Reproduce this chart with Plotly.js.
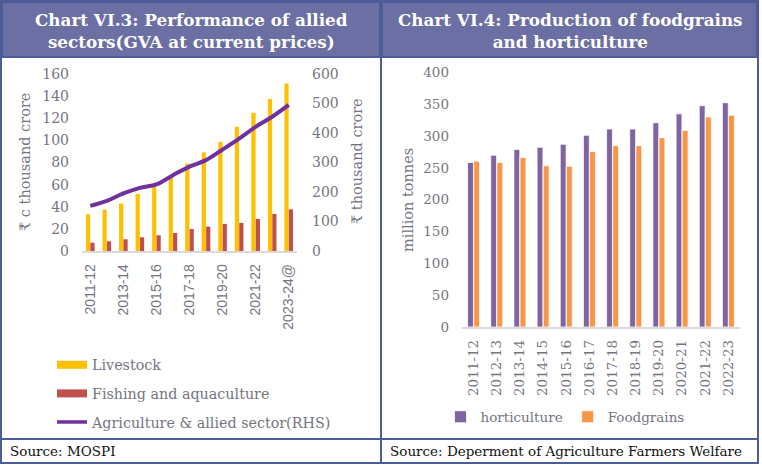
<!DOCTYPE html>
<html>
<head>
<meta charset="utf-8">
<script src="https://cdn.plot.ly/plotly-3.0.1.min.js"></script>
<style>
html,body{margin:0;padding:0;background:#fff;}
#chart{width:762px;height:466px;}
</style>
</head>
<body>
<div id="chart"></div>
<script>
// ---------- data: Chart VI.3 ----------
var alliedYears = ['2011-12','2012-13','2013-14','2014-15','2015-16','2016-17','2017-18','2018-19','2019-20','2020-21','2021-22','2022-23','2023-24@'];
var livestock = [33.2, 37.4, 42.9, 51.6, 58.6, 66.4, 79.1, 89.1, 98.7, 112.3, 125.0, 137.4, 151.5];
var fishing = [7.5, 8.8, 10.6, 12.4, 14.2, 16.3, 19.9, 22.0, 24.5, 25.4, 29.0, 33.5, 37.7];
var alliedSector = [153, 170, 195, 214, 226, 257, 286, 308, 344, 381, 421, 455, 495];
var alliedTickLabels = ['2011-12','2013-14','2015-16','2017-18','2019-20','2021-22','2023-24@'];

// ---------- data: Chart VI.4 ----------
var cropYears = ['2011-12','2012-13','2013-14','2014-15','2015-16','2016-17','2017-18','2018-19','2019-20','2020-21','2021-22','2022-23'];
var horticulture = [258.5, 270.0, 278.9, 282.5, 287.2, 301.3, 311.2, 311.2, 321.0, 335.0, 347.8, 352.5];
var foodgrains = [260.6, 258.5, 266.3, 253.3, 252.7, 275.7, 285.0, 285.0, 297.6, 309.0, 330.0, 333.0];

var W = 762, H = 466;
function px(x){ return x / W; }
function py(y){ return (H - y) / H; }

var serif = 'DejaVu Serif, Liberation Serif, serif';
var sans = 'Liberation Sans, Arial, sans-serif';
var grayTxt = '#75757f';
var frame = '#4d5c98';
var header = '#6b6fa3';

var traces = [
  {type:'bar', name:'Livestock', x:alliedYears, y:livestock, xaxis:'x', yaxis:'y',
   marker:{color:'#ffc000'}, showlegend:false, legendgroup:'live'},
  {type:'bar', name:'Fishing and aquaculture', x:alliedYears, y:fishing, xaxis:'x', yaxis:'y',
   marker:{color:'#c0504d'}, showlegend:false, legendgroup:'fish'},
  {type:'scatter', mode:'lines', name:'Agriculture & allied sector(RHS)', x:alliedYears, y:alliedSector,
   xaxis:'x', yaxis:'y2', line:{color:'#7030a0', width:4, shape:'spline'}, showlegend:false, legendgroup:'agri'},
  // legend entries for left chart
  {type:'scatter', mode:'lines', name:'Livestock', x:[null], y:[null], xaxis:'x', yaxis:'y',
   line:{color:'#ffc000', width:8}, legend:'legend', legendgroup:'live'},
  {type:'scatter', mode:'lines', name:'Fishing and aquaculture', x:[null], y:[null], xaxis:'x', yaxis:'y',
   line:{color:'#c0504d', width:8}, legend:'legend', legendgroup:'fish'},
  {type:'scatter', mode:'lines', name:'Agriculture & allied sector(RHS)', x:[null], y:[null], xaxis:'x', yaxis:'y',
   line:{color:'#7030a0', width:3.5}, legend:'legend', legendgroup:'agri'},
  // right chart
  {type:'bar', name:'horticulture', x:cropYears, y:horticulture, xaxis:'x2', yaxis:'y3',
   marker:{color:'#8064a2', line:{color:'#ffffff', width:0.8}}, legend:'legend2'},
  {type:'bar', name:'Foodgrains', x:cropYears, y:foodgrains, xaxis:'x2', yaxis:'y3',
   marker:{color:'#f79646', line:{color:'#ffffff', width:0.8}}, legend:'legend2'}
];

function rect(x0,y0,x1,y1,fill,lw){
  return {type:'rect', xref:'paper', yref:'paper', x0:px(x0), x1:px(x1), y0:py(y1), y1:py(y0),
          fillcolor:fill||'rgba(0,0,0,0)', line:{color:frame, width:lw||2}, layer:'below'};
}
function hline(x0,x1,y){
  return {type:'line', xref:'paper', yref:'paper', x0:px(x0), x1:px(x1), y0:py(y), y1:py(y), line:{color:frame, width:2}};
}
function vline(x,y0,y1){
  return {type:'line', xref:'paper', yref:'paper', x0:px(x), x1:px(x), y0:py(y0), y1:py(y1), line:{color:frame, width:2}};
}

var shapes = [
  rect(2,2,380,57,header,0),
  rect(382,2,757,57,header,0),
  rect(1,1,758,463,null,2),
  vline(381,1,463),
  hline(1,758,57),
  hline(1,758,439)
];

var annotations = [
  {text:'<b>Chart VI.3: Performance of allied<br>sectors(GVA at current prices)</b>', xref:'paper', yref:'paper',
   x:px(191), y:py(31), xanchor:'center', yanchor:'middle', showarrow:false, align:'center',
   font:{family:serif, size:16.8, color:'#ffffff'}},
  {text:'<b>Chart VI.4: Production of foodgrains<br>and horticulture</b>', xref:'paper', yref:'paper',
   x:px(570), y:py(31), xanchor:'center', yanchor:'middle', showarrow:false, align:'center',
   font:{family:serif, size:16.8, color:'#ffffff'}},
  {text:'Source: MOSPI', xref:'paper', yref:'paper', x:px(8), y:py(451), xanchor:'left', yanchor:'middle',
   showarrow:false, font:{family:serif, size:13.5, color:'#111111'}},
  {text:'Source: Deperment of Agriculture Farmers Welfare', xref:'paper', yref:'paper', x:px(388), y:py(451),
   xanchor:'left', yanchor:'middle', showarrow:false, font:{family:serif, size:13.5, color:'#111111'}},
  {text:'₹ c thousand crore', xref:'paper', yref:'paper', x:px(25), y:py(162), textangle:-90,
   xanchor:'center', yanchor:'middle', showarrow:false, font:{family:serif, size:14.5, color:grayTxt}},
  {text:'₹ thousand crore', xref:'paper', yref:'paper', x:px(357), y:py(161), textangle:-90,
   xanchor:'center', yanchor:'middle', showarrow:false, font:{family:serif, size:14.5, color:grayTxt}},
  {text:'million tonnes', xref:'paper', yref:'paper', x:px(408), y:py(200), textangle:-90,
   xanchor:'center', yanchor:'middle', showarrow:false, font:{family:serif, size:14.5, color:grayTxt}}
];

var layout = {
  width:W, height:H, margin:{l:0,r:0,t:0,b:0}, paper_bgcolor:'#ffffff', plot_bgcolor:'rgba(0,0,0,0)',
  barmode:'group', bargap:0.47, bargroupgap:0.04,
  xaxis:{domain:[px(82),px(297)], anchor:'y', type:'category', tickvals:alliedTickLabels, ticktext:alliedTickLabels,
         tickangle:-90, tickfont:{family:sans, size:14, color:grayTxt}, showline:true, linecolor:'#d9d9d9', linewidth:1.5,
         ticks:'', showgrid:false, zeroline:false, ticklabelstandoff:6, fixedrange:true},
  yaxis:{domain:[py(251),py(74)], anchor:'x', range:[0,160], dtick:20, tickfont:{family:serif, size:14, color:grayTxt},
         showgrid:false, zeroline:false, ticks:'', ticklabelstandoff:12, fixedrange:true},
  yaxis2:{overlaying:'y', side:'right', anchor:'x', range:[0,600], dtick:100, tickfont:{family:serif, size:14, color:grayTxt},
          showgrid:false, zeroline:false, ticks:'', ticklabelstandoff:14, fixedrange:true},
  xaxis2:{domain:[px(462),px(740)], anchor:'y3', type:'category', tickangle:-90,
          tickfont:{family:serif, size:13.5, color:grayTxt}, showline:true, linecolor:'#d9d9d9', linewidth:1.5,
          ticks:'', showgrid:false, zeroline:false, ticklabelstandoff:6, fixedrange:true},
  yaxis3:{domain:[py(327),py(72.5)], anchor:'x2', range:[0,400], dtick:50, tickfont:{family:serif, size:13.5, color:grayTxt},
          showgrid:false, zeroline:false, ticks:'', ticklabelstandoff:12, fixedrange:true},
  legend:{x:px(52), y:py(349), xanchor:'left', yanchor:'top', orientation:'v', bgcolor:'rgba(0,0,0,0)',
          font:{family:serif, size:14.3, color:grayTxt}, tracegroupgap:7, itemwidth:30},
  legend2:{x:px(565), y:py(417), xanchor:'center', yanchor:'middle', orientation:'h', bgcolor:'rgba(0,0,0,0)',
           font:{family:serif, size:13.5, color:grayTxt}, itemwidth:30},
  shapes:shapes, annotations:annotations, showlegend:true
};

Plotly.newPlot('chart', traces, layout, {displayModeBar:false, staticPlot:true});
</script>
</body>
</html>
